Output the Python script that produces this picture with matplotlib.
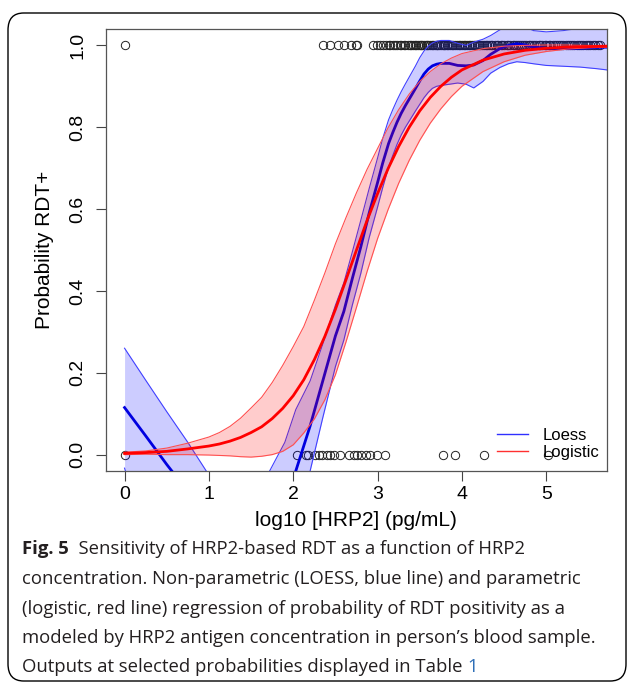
import numpy as np
import matplotlib
matplotlib.use("Agg")
import matplotlib.pyplot as plt
from matplotlib.lines import Line2D
from matplotlib.patches import FancyBboxPatch

# observed RDT results (1 = positive, 0 = negative) by log10 HRP2
pos_x = [0.0, 2.35, 2.44, 2.53, 2.60, 2.68, 2.74, 2.76, 2.94, 2.99, 3.03, 3.07,
         3.10, 3.13, 3.15, 3.18, 3.21, 3.23, 3.26, 3.28, 3.31, 3.33, 3.36, 3.38,
         3.40, 3.42, 3.44, 3.46, 3.48, 3.50, 3.51, 3.53, 3.55, 3.57, 3.59, 3.60,
         3.62, 3.64, 3.66, 3.68, 3.70, 3.71, 3.73, 3.75, 3.77, 3.79, 3.80, 3.82,
         3.84, 3.86, 3.88, 3.90, 3.92, 3.94, 3.96, 3.98, 4.00, 4.02, 4.04, 4.06,
         4.08, 4.10, 4.12, 4.14, 4.16, 4.18, 4.20, 4.22, 4.24, 4.26, 4.28, 4.30,
         4.32, 4.34, 4.36, 4.39, 4.41, 4.43, 4.46, 4.48, 4.50, 4.53, 4.55, 4.57,
         4.60, 4.62, 4.64, 4.67, 4.69, 4.71, 4.74, 4.76, 4.79, 4.81, 4.83, 4.86,
         4.88, 4.91, 4.93, 4.95, 4.98, 5.00, 5.03, 5.05, 5.08, 5.10, 5.13, 5.15,
         5.18, 5.20, 5.23, 5.26, 5.28, 5.31, 5.33, 5.36, 5.39, 5.41, 5.44, 5.47,
         5.49, 5.52, 5.55, 5.58, 5.61, 5.64]
neg_x = [0.0, 2.05, 2.15, 2.17, 2.26, 2.30, 2.34, 2.40, 2.44, 2.48, 2.56, 2.66,
         2.72, 2.76, 2.80, 2.86, 2.91, 2.99, 3.09, 3.78, 3.92, 4.26, 5.02]

# LOESS fit with band
loess_x = [0.0, 0.25, 0.5, 0.75, 1.0, 1.25, 1.5, 1.72, 1.9, 2.03, 2.2, 2.35,
           2.5, 2.6, 2.7, 2.8, 2.9, 3.0, 3.06, 3.13, 3.18, 3.23, 3.28, 3.33,
           3.39, 3.45, 3.5, 3.55, 3.6, 3.65, 3.7, 3.75, 3.85, 3.95, 4.05, 4.14,
           4.25, 4.34, 4.45, 4.55, 4.65, 4.75, 4.85, 5.0, 5.2, 5.4, 5.6, 5.8]
loess_fit = [0.115, 0.046, -0.024, -0.09, -0.16, -0.22, -0.26, -0.23, -0.13,
             -0.04, 0.07, 0.18, 0.29, 0.35, 0.43, 0.507, 0.59, 0.665, 0.712,
             0.76, 0.787, 0.812, 0.834, 0.853, 0.874, 0.895, 0.913, 0.93,
             0.942, 0.95, 0.954, 0.956, 0.956, 0.951, 0.95, 0.952, 0.963,
             0.978, 0.992, 1.0, 1.004, 1.001, 0.996, 0.993, 0.992, 0.993,
             0.995, 0.996]
loess_hi = [0.26, 0.182, 0.105, 0.03, -0.05, -0.09, -0.1, -0.04, 0.03, 0.11,
            0.18, 0.27, 0.365, 0.42, 0.495, 0.572, 0.65, 0.725, 0.772, 0.818,
            0.843, 0.866, 0.887, 0.906, 0.928, 0.95, 0.97, 0.986, 0.998,
            1.006, 1.01, 1.012, 1.012, 1.005, 1.0, 1.008, 1.015, 1.024,
            1.038, 1.045, 1.05, 1.045, 1.036, 1.033, 1.036, 1.042, 1.05,
            1.055]
loess_lo = [-0.033, -0.2, -0.3, -0.4, -0.45, -0.47, -0.45, -0.42, -0.29, -0.19,
            -0.04, 0.09, 0.215, 0.28, 0.365, 0.442, 0.53, 0.605, 0.652, 0.702,
            0.731, 0.758, 0.781, 0.8, 0.82, 0.84, 0.856, 0.872, 0.885, 0.895,
            0.9, 0.902, 0.905, 0.908, 0.905, 0.896, 0.912, 0.932, 0.946,
            0.955, 0.96, 0.958, 0.955, 0.951, 0.949, 0.947, 0.943, 0.938]

# logistic fit with band
logit_x = [0.0, 0.25, 0.5, 0.75, 1.0, 1.125, 1.25, 1.375, 1.5, 1.625, 1.75,
           1.875, 2.0, 2.125, 2.25, 2.375, 2.5, 2.625, 2.75, 2.875, 3.0,
           3.125, 3.25, 3.375, 3.5, 3.625, 3.75, 3.875, 4.0, 4.25, 4.5, 4.75,
           5.0, 5.25, 5.5, 5.75, 6.0]
logit_fit = [0.003, 0.005, 0.008, 0.014, 0.021, 0.026, 0.033, 0.042, 0.054,
             0.068, 0.088, 0.113, 0.144, 0.183, 0.232, 0.289, 0.355, 0.427,
             0.500, 0.572, 0.638, 0.699, 0.753, 0.800, 0.840, 0.873, 0.900,
             0.922, 0.940, 0.964, 0.979, 0.988, 0.993, 0.996, 0.997, 0.998,
             0.999]
logit_lo = [0.0, 0.001, 0.0, 0.0, -0.001, -0.002, -0.003, -0.005, -0.006,
            -0.004, 0.0, 0.008, 0.024, 0.053, 0.087, 0.134, 0.195, 0.275,
            0.360, 0.447, 0.528, 0.599, 0.663, 0.719, 0.768, 0.810, 0.845,
            0.875, 0.900, 0.936, 0.960, 0.976, 0.985, 0.991, 0.994, 0.996,
            0.998]
logit_hi = [0.006, 0.009, 0.016, 0.028, 0.043, 0.054, 0.069, 0.089, 0.114,
            0.140, 0.176, 0.218, 0.264, 0.313, 0.377, 0.444, 0.515, 0.579,
            0.640, 0.697, 0.748, 0.799, 0.843, 0.881, 0.912, 0.936, 0.955,
            0.969, 0.980, 0.992, 0.998, 1.0, 1.001, 1.001, 1.0, 1.0, 1.0]

caption = [
    "  Sensitivity of HRP2-based RDT as a function of HRP2",
    "concentration. Non-parametric (LOESS, blue line) and parametric",
    "(logistic, red line) regression of probability of RDT positivity as a",
    "modeled by HRP2 antigen concentration in person\u2019s blood sample.",
    "Outputs at selected probabilities displayed in Table ",
]

W, H = 629, 684
fig = plt.figure(figsize=(W / 100, H / 100), dpi=100)
plt.rcParams["font.family"] = "Liberation Sans"

ax = fig.add_axes([106 / W, 1 - 471 / H, (607 - 106) / W, (471 - 29) / H])

ax.plot(pos_x, np.ones(len(pos_x)), "o", mfc="none", mec="#222222", ms=6, mew=0.7, zorder=1)
ax.plot(neg_x, np.zeros(len(neg_x)), "o", mfc="none", mec="#222222", ms=6, mew=0.7, zorder=1)

ax.fill_between(loess_x, loess_lo, loess_hi, color=(0, 0, 1, 0.2), lw=0, zorder=2)
ax.plot(loess_x, loess_hi, color="#4040ff", lw=0.8, zorder=2)
ax.plot(loess_x, loess_lo, color="#4040ff", lw=0.8, zorder=2)
ax.plot(loess_x, loess_fit, color="#0000e0", lw=2, zorder=3)

ax.fill_between(logit_x, logit_lo, logit_hi, color=(1, 0, 0, 0.2), lw=0, zorder=4)
ax.plot(logit_x, logit_hi, color="#ff5050", lw=0.8, zorder=4)
ax.plot(logit_x, logit_lo, color="#ff5050", lw=0.8, zorder=4)
ax.plot(logit_x, logit_fit, color="#ff0000", lw=2, zorder=5)

ax.set_xlim(-0.22, 5.72)
ax.set_ylim(-0.04, 1.04)
ax.set_xticks([0, 1, 2, 3, 4, 5])
ax.set_yticks([0.0, 0.2, 0.4, 0.6, 0.8, 1.0])
ax.set_yticklabels(["0.0", "0.2", "0.4", "0.6", "0.8", "1.0"], rotation=90, va="center")
ax.tick_params(axis="both", labelsize=14, length=7, width=0.8, color="#444444")
ax.tick_params(axis="x", pad=4)
ax.tick_params(axis="y", pad=7)
for s in ax.spines.values():
    s.set_color("#555555")
    s.set_linewidth(0.9)

ax.set_xlabel("log10 [HRP2] (pg/mL)", fontsize=15, va="center")
ax.xaxis.set_label_coords(0.499, -0.113)
ax.set_ylabel("Probability RDT+", fontsize=15, va="center")
ax.yaxis.set_label_coords(-0.122, 0.5)

handles = [Line2D([], [], color="#3030ff", lw=1), Line2D([], [], color="#ff3030", lw=1)]
ax.legend(handles, ["Loess", "Logistic"], loc="lower left", frameon=False,
          fontsize=12, handlelength=1.86, handletextpad=0.9, borderpad=0,
          borderaxespad=0, labelspacing=0.12, bbox_to_anchor=(0.780, 0.026))

# frame around the whole figure
fig.patches.append(FancyBboxPatch((8 / W, 3 / H), (626 - 8) / W, (671 - 3) / H,
                                  boxstyle="round,pad=0,rounding_size=0.025",
                                  transform=fig.transFigure, fill=False,
                                  ec="black", lw=1.0))

cap_font = "Open Sans"
cap_size = 13.3
cap_col = "#231f20"
ys = [549, 579, 609, 638, 667]
fig.canvas.draw()
r = fig.canvas.get_renderer()
t0 = fig.text(22 / W, 1 - ys[0] / H, "Fig. 5", family=cap_font, weight="bold",
              size=cap_size, color=cap_col, va="center")
bb = t0.get_window_extent(r)
fig.text(bb.x1 / W, 1 - ys[0] / H, caption[0], family=cap_font, size=cap_size,
         color=cap_col, va="center")
for i in range(1, 5):
    t = fig.text(22 / W, 1 - ys[i] / H, caption[i], family=cap_font,
                 size=cap_size, color=cap_col, va="center")
bb = t.get_window_extent(r)
fig.text(bb.x1 / W, 1 - ys[4] / H, "1", family=cap_font, size=cap_size,
         color="#2f6fb7", va="center")

fig.savefig("out.png", dpi=100)
